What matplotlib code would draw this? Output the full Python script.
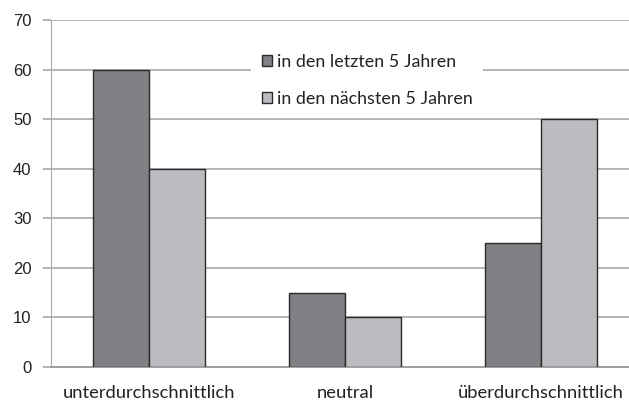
import numpy as np
import matplotlib.pyplot as plt

categories = ['unterdurchschnittlich', 'neutral', 'überdurchschnittlich']
letzte = [60, 15, 25]
naechste = [40, 10, 50]
series_names = ['in den letzten 5 Jahren', 'in den nächsten 5 Jahren']

W, H = 629, 403
fig = plt.figure(figsize=(W / 100, H / 100), dpi=100)
ax = fig.add_axes([51 / W, 36 / H, 588 / W, 347 / H])

x = np.arange(len(categories))
bw = 0.2857
ax.bar(x - bw / 2, letzte, bw, color='#818185', edgecolor='#2a2a2a', linewidth=1.0,
       label=series_names[0], zorder=3)
ax.bar(x + bw / 2, naechste, bw, color='#bcbcc0', edgecolor='#2a2a2a', linewidth=1.0,
       label=series_names[1], zorder=3)

ax.set_xlim(-0.5, 2.5)
ax.set_ylim(0, 70)
ax.set_yticks(range(0, 71, 10))
ax.yaxis.grid(True, color='#b4b4b4', linewidth=1.4, zorder=0)
ax.set_axisbelow(True)

for s in ['top', 'right']:
    ax.spines[s].set_visible(False)
ax.spines['left'].set_color('#a8a8a8')
ax.spines['bottom'].set_color('#a0a0a0')
ax.spines['bottom'].set_linewidth(1.4)
ax.tick_params(axis='y', length=6, width=1.4, color='#b4b4b4', pad=8,
               labelsize=12, labelcolor='#222222')
ax.tick_params(axis='x', length=0, pad=13, labelsize=13.2, labelcolor='#222222')
ax.set_xticks(x)
ax.set_xticklabels(categories, family='Lato')
for t in ax.get_yticklabels():
    t.set_family('Liberation Sans')

# white legend box sits on top of the grid, leaving a gap in the 60 line
leg = ax.legend(loc='upper left', bbox_to_anchor=(251 / W, 1 - 43 / H),
                bbox_transform=fig.transFigure, frameon=True, fancybox=False,
                borderaxespad=0, borderpad=0.6, handlelength=0.55, handleheight=0.55,
                handletextpad=0.3, labelspacing=1.17,
                prop={'family': 'Lato', 'size': 12.9})
leg.get_frame().set_facecolor('white')
leg.get_frame().set_edgecolor('none')
leg.get_frame().set_alpha(1)
for t in leg.get_texts():
    t.set_color('#222222')

fig.savefig('out.png', dpi=100)
